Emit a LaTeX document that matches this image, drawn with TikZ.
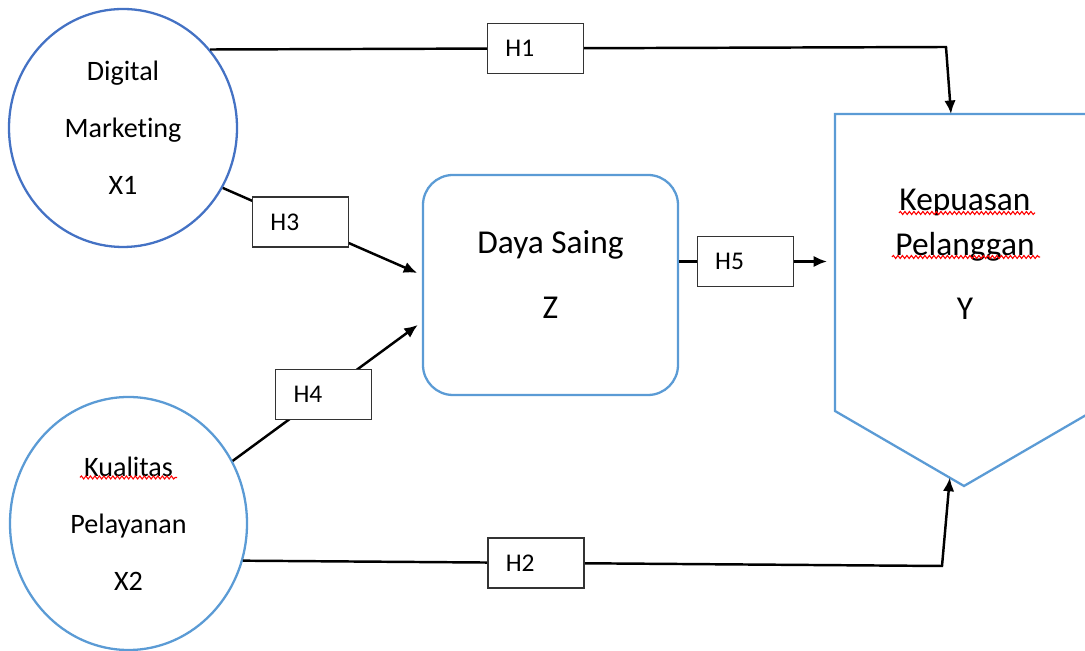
\documentclass[tikz,border=0pt]{standalone}
\usepackage{fontspec}
\setmainfont[Ligatures=NoCommon]{Carlito}
\usetikzlibrary{shapes.geometric,arrows.meta,decorations.pathmorphing,calc}
\definecolor{dkblue}{HTML}{4472C4}
\definecolor{ltblue}{HTML}{5B9BD5}
\begin{document}
\begin{tikzpicture}[
	xvar/.style={ellipse,draw,line width=1.3pt,inner sep=0pt,align=center,font=\fontsize{16}{32.3}\selectfont},
	zbox/.style={draw=ltblue,line width=1.3pt,rounded corners=.6cm,minimum width=5.1cm,minimum height=4.4cm},
	hyp/.style={draw=black!80,fill=white,line width=.8pt,minimum height=1cm,text width=1.2cm,inner xsep=.36cm,align=left,font=\fontsize{14.5}{16}\selectfont},
	arr/.style={line width=1.4pt,-{Latex[length=.27cm,width=.23cm]}},
	squig/.style={red,line width=.6pt,decorate,decoration={snake,amplitude=.03cm,segment length=.09cm}}
	]
	\useasboundingbox (0,0) rectangle (21.7,13.02);
	\clip (0,0) rectangle (21.7,13.02);
	\node[xvar,draw=dkblue,minimum width=4.56cm,minimum height=4.76cm] (X1) at (2.46,10.46) {Digital\\Marketing\\X1};
	\node[xvar,draw=ltblue,minimum width=4.74cm,minimum height=5.06cm] (X2) at (2.57,2.55) {Kualitas\\Pelayanan\\X2};
	\node[zbox] (Z) at (11.01,7.32) {};
	\node[align=center,font=\fontsize{19}{36.9}\selectfont] (Zlbl) at ([yshift=.21cm]Z.center) {Daya Saing\\Z};
	\draw [draw=ltblue,line width=1.3pt] (16.7,10.74) coordinate (Ytl) -- (21.86,10.74) -- (21.86,4.8)
		-- (19.28,3.3) coordinate (Ytip) -- (16.7,4.8) coordinate (Ybl) -- cycle;
	\node[align=center,font=\fontsize{19}{25.5}\selectfont] (Ylbl) at (19.3,7.94) {Kepuasan\\Pelanggan\\[.38cm]Y};
	\coordinate (Ytop) at (19.02,10.74);
	\coordinate (Ybot) at ($(Ybl)!.89!(Ytip)$);
	\coordinate (c1) at (18.92,12.08);
	\coordinate (c2) at (18.84,1.7);
	\coordinate (z5) at ([yshift=.47cm]Z.east);
	\draw [arr] (X1.42) -- node[hyp,pos=.442] (H1) {H1} (c1) -- (Ytop);
	\draw [arr] (X2.-18) -- node[hyp,pos=.419] (H2) {H2} (c2) -- (Ybot);
	\draw [arr,shorten >=.1cm] (X1.-31) -- node[hyp,pos=.39] (H3) {H3} ($(Z.west)+(0,.2)$);
	\draw [arr,shorten >=.1cm] (X2.31) -- node[hyp,pos=.48] (H4) {H4} ($(Z.west)+(0,-.74)$);
	\draw [arr,shorten >=.16cm] (z5) -- node[hyp,pos=.424] (H5) {H5} (z5 -| Ytl);
	\draw [squig] (1.6,3.47) -- (3.54,3.47);
	\draw [squig] (17.98,8.76) -- (20.7,8.76);
	\draw [squig] (17.84,7.88) -- (20.8,7.88);
\end{tikzpicture}
\end{document}
